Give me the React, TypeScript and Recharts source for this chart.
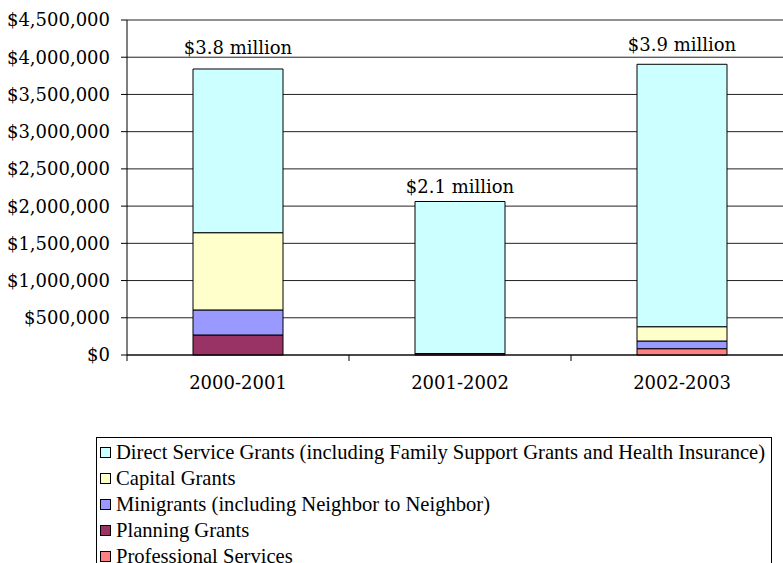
import { BarChart, Bar, XAxis, YAxis, CartesianGrid, LabelList } from 'recharts';

const years = ['2000-2001', '2001-2002', '2002-2003'];
const professional = [0, 0, 85000];
const planning = [269000, 20000, 0];
const minigrants = [336000, 0, 103000];
const capital = [1038000, 0, 192000];
const direct = [2199000, 2042000, 3525000];
const totalLabels = ['$3.8 million', '$2.1 million', '$3.9 million'];
const yTicks = [0, 500000, 1000000, 1500000, 2000000, 2500000, 3000000, 3500000, 4000000, 4500000];

const series = [
  { key: 'professional', name: 'Professional Services', color: '#FF8080', values: professional },
  { key: 'planning', name: 'Planning Grants', color: '#993366', values: planning },
  { key: 'minigrants', name: 'Minigrants (including Neighbor to Neighbor)', color: '#9999FF', values: minigrants },
  { key: 'capital', name: 'Capital Grants', color: '#FFFFCC', values: capital },
  { key: 'direct', name: 'Direct Service Grants (including Family Support Grants and Health Insurance)', color: '#CCFFFF', values: direct },
];

const data = years.map((year, i) => {
  const row: Record<string, string | number> = { year };
  series.forEach((s) => (row[s.key] = s.values[i]));
  return row;
});

const CHART_W = 800;
const CHART_H = 405;
const MARGIN = { top: 20, right: 7, left: 0, bottom: 0 };
const Y_W = 127;
const X_H = 50;
const AXIS_Y = CHART_H - X_H;
const BAND = (CHART_W - MARGIN.left - MARGIN.right - Y_W) / years.length;
const labelOffsets = [22, 15, 20];

const axisFont = { fontFamily: '"DejaVu Serif", serif', fontSize: 18, fill: '#000' };

const fmt = (v: number) => '$' + v.toLocaleString('en-US');

function XTick(props: any) {
  const { x, payload, index } = props;
  const left = x - BAND / 2;
  return (
    <g>
      <line x1={left} y1={AXIS_Y} x2={left} y2={AXIS_Y + 6} stroke="#000" />
      {index === years.length - 1 && (
        <line x1={x + BAND / 2} y1={AXIS_Y} x2={x + BAND / 2} y2={AXIS_Y + 6} stroke="#000" />
      )}
      <text x={x} y={AXIS_Y + 34} textAnchor="middle" {...axisFont}>
        {payload.value}
      </text>
    </g>
  );
}

function TotalLabel(props: any) {
  const { x, y, width, index } = props;
  return (
    <text x={x + width / 2} y={y - labelOffsets[index] + 7} textAnchor="middle" {...axisFont}>
      {totalLabels[index]}
    </text>
  );
}

export default function App() {
  const legendItems = [...series].reverse();
  return (
    <div
      style={{
        position: 'fixed',
        left: 0,
        top: 0,
        width: 783,
        height: 563,
        overflow: 'hidden',
        background: '#fff',
      }}
    >
      <BarChart width={CHART_W} height={CHART_H} data={data} margin={MARGIN}>
        <CartesianGrid vertical={false} stroke="#222" />
        <XAxis
          dataKey="year"
          height={X_H}
          tickLine={false}
          tickSize={0}
          tickMargin={0}
          axisLine={{ stroke: '#000' }}
          tick={<XTick />}
          interval={0}
        />
        <YAxis
          width={Y_W}
          domain={[0, 4500000]}
          ticks={yTicks}
          tickFormatter={fmt}
          tickSize={6}
          tickMargin={11}
          axisLine={{ stroke: '#000' }}
          tickLine={{ stroke: '#000' }}
          tick={axisFont}
        />
        {series.map((s, i) => (
          <Bar
            key={s.key}
            dataKey={s.key}
            stackId="a"
            fill={s.color}
            stroke="#000"
            strokeWidth={1}
            barSize={90}
            isAnimationActive={false}
          >
            {i === series.length - 1 && <LabelList dataKey={s.key} content={<TotalLabel />} />}
          </Bar>
        ))}
      </BarChart>
      <div
        style={{
          position: 'absolute',
          left: 96,
          top: 437,
          width: 674,
          height: 200,
          border: '1px solid #000',
          paddingTop: 1,
          fontFamily: '"Liberation Serif", serif',
          fontSize: 20.6,
          color: '#000',
        }}
      >
        {legendItems.map((s) => (
          <div key={s.key} style={{ height: 26, display: 'flex', alignItems: 'center', paddingLeft: 3 }}>
            <span
              style={{
                display: 'inline-block',
                width: 9,
                height: 9,
                background: s.color,
                border: '1px solid #000',
                marginRight: 5,
              }}
            />
            <span style={{ whiteSpace: 'nowrap' }}>{s.name}</span>
          </div>
        ))}
      </div>
    </div>
  );
}
